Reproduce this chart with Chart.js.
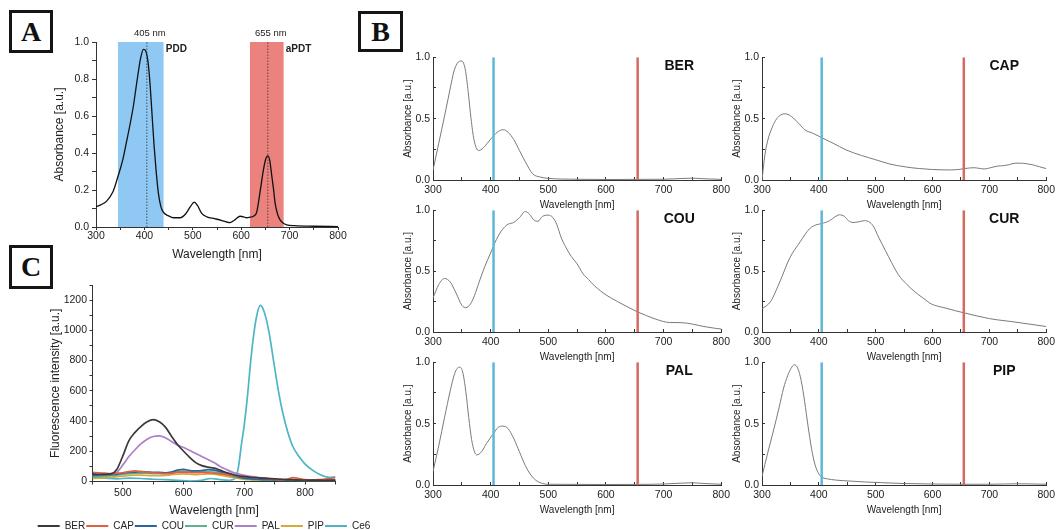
<!DOCTYPE html>
<html><head><meta charset="utf-8">
<script src="https://cdn.jsdelivr.net/npm/chart.js@4.4.1/dist/chart.umd.min.js"></script>
<style>
html,body{margin:0;padding:0;background:#fff}
body{width:1059px;height:530px;overflow:hidden;position:relative;font-family:'Liberation Sans',Arial,sans-serif}
canvas{position:absolute}
.tag{position:absolute;box-sizing:border-box;border:3px solid #151515;font-family:'Liberation Serif','DejaVu Serif',serif;font-weight:bold;font-size:28px;line-height:1;display:flex;align-items:center;justify-content:center;color:#111}
</style></head>
<body>
<div class="tag" style="left:9px;top:10px;width:44px;height:43px">A</div>
<div class="tag" style="left:358px;top:11px;width:45px;height:41px">B</div>
<div class="tag" style="left:9px;top:245px;width:44px;height:44px">C</div>
<canvas id="cA"></canvas>
<canvas id="cC"></canvas>
<canvas id="b0"></canvas><canvas id="b1"></canvas><canvas id="b2"></canvas>
<canvas id="b3"></canvas><canvas id="b4"></canvas><canvas id="b5"></canvas>
<script>
// ---------- Panel A data ----------
const aWl  = [300,310,322,335,345,355,363,370,377,382,387,392,398,403,408,412,416,420,424,429,434,439,450,460,474,485,495,503,510,518,529,545,560,570,577,585,592,598,605,611,618,625,632,639,646,651,655,659,663,667,670,675,680,687,694,710,750,800];
const aAbs = [0.11,0.12,0.14,0.19,0.27,0.36,0.46,0.55,0.65,0.74,0.83,0.91,0.96,0.95,0.88,0.76,0.60,0.44,0.31,0.18,0.11,0.08,0.06,0.05,0.05,0.07,0.11,0.135,0.115,0.075,0.055,0.045,0.035,0.027,0.024,0.035,0.05,0.058,0.055,0.05,0.053,0.058,0.08,0.19,0.31,0.37,0.385,0.36,0.28,0.2,0.13,0.07,0.04,0.02,0.012,0.007,0.004,0.002];
const aBands = [[345,440],[618,688]];
const aBandLabels = ['PDD','aPDT'];
const laserNm = [405,655];
const laserLabels = ['405 nm','655 nm'];
const aXTicks = [300,400,500,600,700,800];
const aYTicks = [0,0.2,0.4,0.6,0.8,1.0];

// ---------- Panel C data ----------
const cNames = ['BER','CAP','COU','CUR','PAL','PIP','Ce6'];
const cWl  = [450,460,470,480,490,500,510,520,530,540,550,560,570,580,590,600,610,620,630,640,650,660,670,680,690,700,710,720,730,740,750,760,770,780,790,800,810,820,830,840,850];
const cBER = [50,48,47,50,80,170,270,325,365,395,410,395,360,300,245,200,160,125,105,95,88,75,60,48,38,32,28,25,22,20,18,15,13,12,10,10,9,9,8,8,8];
const cCAP = [60,58,55,52,55,58,65,70,65,60,58,55,52,55,60,62,60,58,60,58,55,50,45,40,35,32,28,25,22,20,15,12,15,25,20,12,10,12,15,20,25];
const cCOU = [40,42,45,45,48,55,60,62,65,63,60,60,58,62,75,80,72,70,72,78,75,65,55,42,30,22,18,15,13,12,11,10,10,10,9,9,9,9,9,9,9];
const cCUR = [30,32,35,38,42,48,52,55,56,55,52,52,55,60,65,68,65,62,64,66,62,55,45,35,25,18,14,12,11,10,10,9,9,9,8,8,8,8,8,8,8];
const cPAL = [35,35,38,45,60,110,165,210,250,280,298,302,290,265,240,225,205,185,165,145,125,100,80,62,50,40,34,28,24,20,17,14,12,11,10,10,9,9,9,9,9];
const cPIP = [20,22,25,28,32,36,40,42,42,40,38,38,40,45,48,50,48,46,48,50,48,42,35,27,20,14,12,10,10,9,9,8,8,8,8,8,8,8,8,8,8];
const ce6Wl = [450,470,490,510,530,550,570,590,610,630,645,660,675,685,690,695,700,705,710,715,720,726,732,740,748,756,764,772,780,790,800,812,825,840,850];
const ce6Fl = [25,22,18,22,20,15,12,8,3,8,20,12,8,20,90,240,380,560,780,960,1090,1165,1130,1000,800,600,440,320,230,165,115,75,45,28,30];
const cColors = ['#3a3a3a','#e2603f','#2f63a0','#5bb48e','#ab80c8','#d9a93a','#4db6c6'];
const cXTicks = [500,600,700,800];
const cYTicks = [0,200,400,600,800,1000,1200];

// ---------- Panel B data ----------
const bNames = ['BER','CAP','COU','CUR','PAL','PIP'];
const berWl  = [300,310,320,330,336,342,350,356,361,366,371,379,387,396,405,413,422,430,440,450,460,473,485,500,550,600,650,700,730,750,770,800];
const berAbs = [0.08,0.3,0.52,0.75,0.88,0.95,0.97,0.9,0.72,0.5,0.33,0.24,0.26,0.31,0.36,0.395,0.41,0.39,0.33,0.24,0.15,0.05,0.025,0.013,0.006,0.004,0.005,0.006,0.012,0.015,0.01,0.005];
const capWl  = [300,305,310,318,326,333,340,348,356,365,375,390,405,425,448,475,500,525,552,575,598,615,633,645,656,665,673,682,691,702,714,725,735,745,755,765,775,788,800];
const capAbs = [0.0,0.2,0.32,0.43,0.5,0.53,0.54,0.53,0.5,0.46,0.41,0.38,0.345,0.3,0.245,0.2,0.165,0.13,0.107,0.094,0.086,0.083,0.082,0.085,0.093,0.098,0.1,0.095,0.09,0.1,0.113,0.117,0.125,0.137,0.137,0.133,0.125,0.108,0.093];
const couWl  = [300,310,320,330,340,350,357,365,372,380,390,400,410,420,430,440,450,460,467,475,482,490,500,508,515,522,530,540,550,560,570,580,590,600,620,640,655,670,690,710,730,750,770,790,800];
const couAbs = [0.28,0.39,0.44,0.41,0.32,0.22,0.2,0.23,0.3,0.41,0.54,0.65,0.76,0.84,0.885,0.9,0.94,0.99,0.97,0.92,0.91,0.95,0.96,0.94,0.88,0.78,0.70,0.62,0.56,0.48,0.43,0.38,0.34,0.305,0.25,0.2,0.165,0.135,0.1,0.078,0.077,0.065,0.045,0.03,0.025];
const curWl  = [300,315,332,349,367,384,395,404,419,428,436,445,452,460,470,480,490,497,505,517,528,540,555,569,583,598,620,640,655,680,700,714,740,770,800];
const curAbs = [0.19,0.25,0.42,0.61,0.74,0.85,0.88,0.89,0.915,0.945,0.963,0.95,0.915,0.9,0.905,0.915,0.9,0.86,0.78,0.67,0.57,0.47,0.39,0.33,0.28,0.23,0.2,0.175,0.158,0.13,0.11,0.1,0.085,0.065,0.045];
const palWl  = [300,310,320,330,337,342,347,352,357,362,367,372,376,384,393,405,413,421,430,440,450,460,470,478,490,500,550,600,650,700,730,750,770,800];
const palAbs = [0.11,0.32,0.55,0.77,0.9,0.95,0.96,0.91,0.76,0.55,0.37,0.27,0.245,0.27,0.34,0.42,0.47,0.48,0.46,0.38,0.27,0.16,0.08,0.04,0.012,0.006,0.005,0.004,0.005,0.008,0.015,0.018,0.012,0.006];
const pipWl  = [300,310,320,330,338,345,351,357,363,369,375,381,387,393,400,407,415,430,455,480,510,550,600,650,700,750,800];
const pipAbs = [0.07,0.26,0.44,0.63,0.79,0.89,0.95,0.98,0.95,0.85,0.68,0.48,0.3,0.17,0.09,0.06,0.05,0.04,0.032,0.025,0.019,0.012,0.008,0.006,0.006,0.01,0.006];
const bXTicks = [300,400,500,600,700,800];
const bYTicks = [0,0.5,1.0];

// ---------- helpers ----------
const FONT = "'Liberation Sans', Arial, sans-serif";
Chart.defaults.font.family = FONT;
Chart.defaults.color = '#222';
Chart.defaults.animation = false;

const pts = (xs, ys) => xs.map((x, i) => ({x, y: ys[i]}));
const isMajor = (v, arr) => arr.some(t => Math.abs(t - v) < 1e-9);

function place(id, left, top, w, h) {
  const c = document.getElementById(id);
  c.width = w; c.height = h;
  c.style.left = left + 'px'; c.style.top = top + 'px';
  c.style.width = w + 'px'; c.style.height = h + 'px';
  return c;
}

function axis(o) {
  return {
    type: 'linear', position: o.pos, min: o.min, max: o.max,
    afterBuildTicks: s => {
      const t = [];
      for (let v = o.min; v <= o.max + 1e-9; v += o.minor) t.push({value: Math.round(v * 1000) / 1000});
      s.ticks = t;
    },
    ticks: {
      autoSkip: false, maxRotation: 0, padding: o.pad, color: '#222',
      font: {size: o.fs},
      callback: v => isMajor(v, o.major) ? o.fmt(v) : ''
    },
    grid: {drawOnChartArea: false, drawTicks: true, tickLength: o.tl, color: '#333', lineWidth: 1},
    border: {display: true, color: '#333', width: 1},
    title: {display: true, text: o.title, color: '#222', font: {size: o.tfs}, padding: o.tpad},
    afterFit: s => { if (o.pos === 'bottom') s.height = o.size; else s.width = o.size; }
  };
}

// ---------- Panel A ----------
const aTextPlugin = {
  id: 'aText',
  afterDatasetsDraw(ch) {
    const {ctx, chartArea: ca, scales: {x}} = ch;
    ctx.save();
    ctx.fillStyle = '#222';
    ctx.textBaseline = 'middle';
    ctx.font = "9.5px " + FONT;
    ctx.textAlign = 'center';
    laserNm.forEach((nm, i) => ctx.fillText(laserLabels[i], x.getPixelForValue(nm) + 3, ca.top - 9));
    ctx.font = "bold 10px " + FONT;
    ctx.textAlign = 'left';
    aBands.forEach((b, i) => ctx.fillText(aBandLabels[i], x.getPixelForValue(b[1]) + 2, ca.top + 7));
    ctx.restore();
  }
};
const bandColors = ['rgb(142,200,243)', 'rgb(236,130,126)'];
new Chart(place('cA', 0, 0, 350, 270), {
  type: 'line',
  data: {datasets: [
    {data: pts(aWl, aAbs), borderColor: '#111', borderWidth: 1.3, pointRadius: 0, cubicInterpolationMode: 'monotone', fill: false, order: 1},
    ...laserNm.map(nm => ({data: [{x: nm, y: 0}, {x: nm, y: 1}], borderColor: '#333', borderWidth: 0.8, borderDash: [1.5, 1.5], pointRadius: 0, fill: false, order: 0})),
    ...aBands.map((b, i) => ({data: [{x: b[0], y: 1}, {x: b[1], y: 1}], borderColor: 'transparent', borderWidth: 0, backgroundColor: bandColors[i], pointRadius: 0, fill: 'origin', order: 5}))
  ]},
  options: {
    responsive: false, animation: false,
    layout: {padding: {top: 42, right: 12, left: 0, bottom: 0}},
    plugins: {legend: {display: false}, tooltip: {enabled: false}},
    scales: {
      x: axis({pos: 'bottom', min: 300, max: 800, minor: 50, major: aXTicks, fmt: v => String(v), fs: 10.5, pad: 0, tl: 3, title: 'Wavelength [nm]', tfs: 12, tpad: {top: 0, bottom: 7.8}, size: 43}),
      y: axis({pos: 'left', min: 0, max: 1, minor: 0.1, major: aYTicks, fmt: v => v.toFixed(1), fs: 10.5, pad: 3, tl: 4, title: 'Absorbance [a.u.]', tfs: 12, tpad: {top: 52.8, bottom: 0}, size: 96})
    }
  },
  plugins: [aTextPlugin]
});

// ---------- Panel C ----------
const cSeries = [cBER, cCAP, cCOU, cCUR, cPAL, cPIP];
const cDatasets = cSeries.map((s, i) => ({label: cNames[i], data: pts(cWl, s)}));
cDatasets.push({label: cNames[6], data: pts(ce6Wl, ce6Fl)});
cDatasets.forEach((d, i) => Object.assign(d, {borderColor: cColors[i], backgroundColor: cColors[i], borderWidth: 1.7, pointRadius: 0, cubicInterpolationMode: 'monotone', fill: false}));

new Chart(place('cC', 0, 270, 408, 271), {
  type: 'line',
  data: {datasets: cDatasets},
  options: {
    responsive: false, animation: false,
    layout: {padding: {top: 15, right: 0, left: 0, bottom: 0}},
    plugins: {
      tooltip: {enabled: false},
      legend: {
        display: true, position: 'bottom', align: 'center',
        labels: {
          boxWidth: 22, boxHeight: 2, padding: 1, color: '#222', font: {size: 10},
          generateLabels: ch => Chart.defaults.plugins.legend.labels.generateLabels(ch).map(l => ({...l, fillStyle: l.strokeStyle, lineWidth: 0}))
        }
      }
    },
    scales: {
      x: axis({pos: 'bottom', min: 450, max: 850, minor: 50, major: cXTicks, fmt: v => String(v), fs: 10.5, pad: 2, tl: 3, title: 'Wavelength [nm]', tfs: 12, tpad: {top: 0, bottom: 2.3}, size: 38.5}),
      y: axis({pos: 'left', min: 0, max: 1300, minor: 100, major: cYTicks, fmt: v => String(v), fs: 10.5, pad: 2.5, tl: 3, title: 'Fluorescence intensity [a.u.]', tfs: 12, tpad: {top: 48.8, bottom: 0}, size: 92.5}),
      yR: {position: 'right', display: true, grid: {display: false}, border: {display: false}, ticks: {display: false}, afterFit: s => { s.width = 72.5; }}
    }
  }
});

// ---------- Panel B ----------
const bWl = [berWl, capWl, couWl, curWl, palWl, pipWl];
const bAbs = [berAbs, capAbs, couAbs, curAbs, palAbs, pipAbs];
const colL = [433, 762], colR = [723, 1048], colTitleX = [408, 737];
const rowT = [55, 208, 360], rowB = [180, 332, 485];
const laserColors = ['#5fb7d8', '#d56a60'];

bNames.forEach((name, k) => {
  const col = k % 2, row = Math.floor(k / 2);
  const left = colTitleX[col] - 14;
  const top = rowT[row] - 10;
  const w = colR[col] + 14 - left;
  const h = rowB[row] + 33 - top;
  const namePlugin = {
    id: 'name' + k,
    afterDatasetsDraw(ch) {
      const {ctx, chartArea: ca} = ch;
      ctx.save();
      ctx.fillStyle = '#111';
      ctx.font = "bold 14px " + FONT;
      ctx.textAlign = 'center'; ctx.textBaseline = 'middle';
      ctx.fillText(name, ca.right - 42, ca.top + 9);
      ctx.restore();
    }
  };
  new Chart(place('b' + k, left, top, w, h), {
    type: 'line',
    data: {datasets: [
      {data: pts(bWl[k], bAbs[k]), borderColor: '#7a7a7a', borderWidth: 1, pointRadius: 0, cubicInterpolationMode: 'monotone', fill: false, order: 1},
      ...laserNm.map((nm, i) => ({data: [{x: nm, y: 0}, {x: nm, y: 1}], borderColor: laserColors[i], borderWidth: 2.5, pointRadius: 0, fill: false, order: 0}))
    ]},
    options: {
      responsive: false, animation: false,
      layout: {padding: {top: 10, right: 14, left: 0, bottom: 0}},
      plugins: {legend: {display: false}, tooltip: {enabled: false}},
      scales: {
        x: axis({pos: 'bottom', min: 300, max: 800, minor: 50, major: bXTicks, fmt: v => String(v), fs: 10.5, pad: 7, tl: -3, title: 'Wavelength [nm]', tfs: 10, tpad: {top: 0, bottom: 2}, size: 33}),
        y: axis({pos: 'left', min: 0, max: 1, minor: 0.25, major: bYTicks, fmt: v => v.toFixed(1), fs: 10.5, pad: 6, tl: -3, title: 'Absorbance [a.u.]', tfs: 10, tpad: {top: 8, bottom: 0}, size: colL[col] - left})
      }
    },
    plugins: [namePlugin]
  });
});
</script>
</body></html>
